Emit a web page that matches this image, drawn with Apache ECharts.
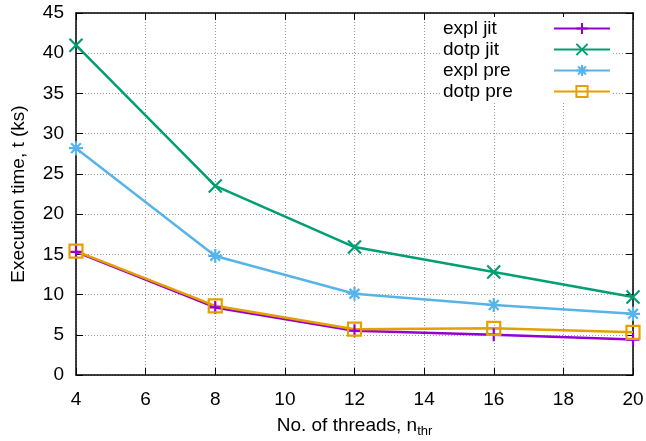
<!DOCTYPE html>
<html lang="en">
<head>
    <meta charset="UTF-8">
    <title>Execution time vs threads</title>
    <script src="https://cdn.jsdelivr.net/npm/echarts@6/dist/echarts.min.js"></script>
    <style>
        html, body { margin: 0; padding: 0; background: #fff; }
        #chartmain { width: 646px; height: 441px; }
    </style>
</head>
<body>
<div id="chartmain"></div>
<script>
    // data
    var threads = [4, 8, 12, 16, 20];
    var explJit = [15.3, 8.4, 5.5, 5.0, 4.4];
    var dotpJit = [41.0, 23.5, 15.9, 12.8, 9.7];
    var explPre = [28.2, 14.8, 10.1, 8.7, 7.6];
    var dotpPre = [15.4, 8.6, 5.7, 5.8, 5.3];

    var FONT = 'Liberation Sans';
    var FS = 19;

    // marker shapes (stroked, gnuplot style)
    var PLUS = 'path://M5,0 L5,10 M0,5 L10,5';
    var CROSS = 'path://M0,0 L10,10 M10,0 L0,10';
    var STAR = 'path://M5,0 L5,10 M0,5 L10,5 M1.5,1.5 L8.5,8.5 M8.5,1.5 L1.5,8.5';
    var SQUARE = 'path://M0,0 L10,0 L10,10 L0,10 Z';

    function pairs(vals) {
        return threads.map(function (t, i) { return [t, vals[i]]; });
    }

    function mkSeries(name, vals, color, symbol, size, fill) {
        return {
            name: name,
            type: 'line',
            data: pairs(vals),
            symbol: symbol,
            symbolSize: size,
            showSymbol: true,
            lineStyle: {color: color, width: 2.5},
            itemStyle: {color: fill || color, borderColor: color, borderWidth: 2.2},
            emphasis: {disabled: true},
            animation: false
        };
    }

    var axisCommon = {
        axisLine: {show: true, onZero: false, lineStyle: {color: '#000', width: 1.5}},
        axisTick: {show: true, inside: true, length: 7, lineStyle: {color: '#000', width: 1}},
        axisLabel: {color: '#000', fontFamily: FONT, fontSize: FS},
        splitLine: {show: false}
    };

    var option = {
        backgroundColor: '#fff',
        animation: false,
        grid: {left: 76, right: 13, top: 13, bottom: 66, outerBoundsMode: 'none', containLabel: false},
        legend: {
            orient: 'vertical',
            left: 441,
            top: 17,
            align: 'right',
            padding: [2, 2],
            backgroundColor: '#fff',
            itemWidth: 56,
            itemHeight: 14,
            itemGap: 2,
            formatter: '{a|{name}}',
            textStyle: {
                color: '#000', fontFamily: FONT, fontSize: FS,
                rich: {a: {color: '#000', fontFamily: FONT, fontSize: FS, lineHeight: 21, width: 106, align: 'left'}}
            },
            data: ['expl jit', 'dotp jit', 'expl pre', 'dotp pre']
        },
        xAxis: [
            Object.assign({}, axisCommon, {
                type: 'value', min: 4, max: 20, interval: 2,
                position: 'bottom',
                axisLabel: {color: '#000', fontFamily: FONT, fontSize: FS, margin: 15},
                splitLine: {show: true, lineStyle: {color: '#9a9a9a', type: [1, 2], width: 1}},
                name: '{n|No. of threads, n}{s|thr}',
                nameLocation: 'middle',
                nameGap: 39,
                nameTextStyle: {
                    rich: {
                        n: {color: '#000', fontFamily: FONT, fontSize: FS},
                        s: {color: '#000', fontFamily: FONT, fontSize: 13, padding: [11, 0, 0, 0]}
                    }
                }
            }),
            Object.assign({}, axisCommon, {
                type: 'value', min: 4, max: 20, interval: 2,
                position: 'top',
                axisLabel: {show: false}
            })
        ],
        yAxis: [
            Object.assign({}, axisCommon, {
                type: 'value', min: 0, max: 45, interval: 5,
                position: 'left',
                axisLabel: {color: '#000', fontFamily: FONT, fontSize: FS, margin: 12},
                splitLine: {show: true, lineStyle: {color: '#9a9a9a', type: [1, 2], width: 1}},
                name: 'Execution time, t (ks)',
                nameLocation: 'middle',
                nameGap: 48,
                nameTextStyle: {color: '#000', fontFamily: FONT, fontSize: FS}
            }),
            Object.assign({}, axisCommon, {
                type: 'value', min: 0, max: 45, interval: 5,
                position: 'right',
                axisLabel: {show: false}
            })
        ],
        series: [
            mkSeries('expl jit', explJit, '#9400d3', PLUS, 13),
            mkSeries('dotp jit', dotpJit, '#009e73', CROSS, 13),
            mkSeries('expl pre', explPre, '#56b4e9', STAR, 14),
            mkSeries('dotp pre', dotpPre, '#e69f00', SQUARE, 13, 'rgba(255,255,255,0)')
        ]
    };

    var myChart = echarts.init(document.getElementById('chartmain'));
    myChart.setOption(option);
</script>
</body>
</html>
